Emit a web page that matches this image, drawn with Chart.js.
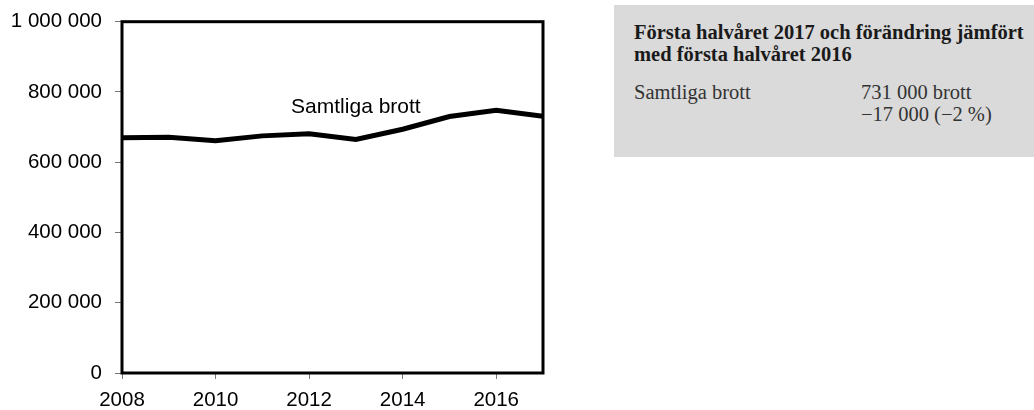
<!DOCTYPE html>
<html>
<head>
<meta charset="utf-8">
<script src="https://cdn.jsdelivr.net/npm/chart.js@4/dist/chart.umd.min.js"></script>
<style>
  html, body { margin: 0; padding: 0; background: #fff; }
  body { width: 1034px; height: 410px; position: relative; overflow: hidden; }
  #chartWrap { position: absolute; left: 0; top: 0; width: 560px; height: 410px; }
  #box { position: absolute; left: 614px; top: 5px; width: 420px; height: 152px; background: #dadada; }
  .serif { font-family: "Liberation Serif", "Times New Roman", serif; font-size: 20.5px; position: absolute; white-space: nowrap; }
  #title { left: 20px; top: 15.8px; line-height: 22.5px; font-weight: bold; color: #1a1a1a; }
  #rowLabel { left: 20px; top: 75.6px; line-height: 22.3px; color: #333; }
  #rowValue { left: 247px; top: 75.6px; line-height: 22.3px; color: #333; }
</style>
</head>
<body>
<div id="chartWrap"><canvas id="c"></canvas></div>
<div id="box">
  <div id="title" class="serif">Första halvåret 2017 och förändring jämfört<br>med första halvåret 2016</div>
  <div id="rowLabel" class="serif">Samtliga brott</div>
  <div id="rowValue" class="serif">731 000 brott<br>−17 000 (−2 %)</div>
</div>
<script>
const years = [2008, 2009, 2010, 2011, 2012, 2013, 2014, 2015, 2016, 2017];
const samtligaBrott = [670000, 671000, 661000, 675000, 681000, 665000, 694000, 730000, 748000, 731000];
const seriesLabel = 'Samtliga brott';
const xTickYears = [2008, 2010, 2012, 2014, 2016];
const yTickValues = [0, 200000, 400000, 600000, 800000, 1000000];

const fmt = v => String(v).replace(/\B(?=(\d{3})+(?!\d))/g, ' ');

const frame = {
  id: 'frame',
  afterDatasetsDraw(chart) {
    const { ctx, chartArea: a } = chart;
    ctx.save();
    ctx.strokeStyle = '#000';
    ctx.lineWidth = 3;
    ctx.strokeRect(a.left, a.top, a.right - a.left, a.bottom - a.top);
    ctx.restore();
  }
};

const seriesText = {
  id: 'seriesText',
  afterDatasetsDraw(chart) {
    const { ctx, scales } = chart;
    ctx.save();
    ctx.font = '21px "Liberation Sans", Arial, sans-serif';
    ctx.fillStyle = '#000';
    ctx.textAlign = 'center';
    ctx.textBaseline = 'middle';
    ctx.fillText(seriesLabel, scales.x.getPixelForValue(2013), scales.y.getPixelForValue(757000));
    ctx.restore();
  }
};

new Chart(document.getElementById('c'), {
  type: 'line',
  data: {
    datasets: [{
      label: seriesLabel,
      data: years.map((y, i) => ({ x: y, y: samtligaBrott[i] })),
      borderColor: '#000',
      borderWidth: 5,
      pointRadius: 0,
      tension: 0,
      fill: false
    }]
  },
  options: {
    responsive: true,
    maintainAspectRatio: false,
    animation: false,
    devicePixelRatio: 1,
    layout: { padding: { top: 21.7, right: 17, bottom: 0, left: 0 } },
    plugins: { legend: { display: false }, tooltip: { enabled: false } },
    scales: {
      x: {
        type: 'linear',
        min: 2008,
        max: 2017,
        afterBuildTicks: axis => { axis.ticks = xTickYears.map(v => ({ value: v })); },
        afterFit: axis => { axis.height = 37; axis.paddingLeft = 0; axis.paddingRight = 0; },
        border: { display: false },
        grid: { drawOnChartArea: false, drawTicks: true, tickLength: 6, tickColor: '#777', tickWidth: 1 },
        ticks: {
          padding: 9,
          color: '#000',
          font: { family: '"Liberation Sans", Arial, sans-serif', size: 20.5 },
          callback: v => String(v),
          maxRotation: 0
        }
      },
      y: {
        min: 0,
        max: 1000000,
        afterBuildTicks: axis => { axis.ticks = yTickValues.map(v => ({ value: v })); },
        afterFit: axis => { axis.width = 122; axis.paddingTop = 0; axis.paddingBottom = 0; },
        border: { display: false },
        grid: { drawOnChartArea: false, drawTicks: true, tickLength: 7, tickColor: '#777', tickWidth: 1 },
        ticks: {
          padding: 13,
          color: '#000',
          font: { family: '"Liberation Sans", Arial, sans-serif', size: 20.5 },
          callback: v => fmt(v)
        }
      }
    }
  },
  plugins: [frame, seriesText]
});
</script>
</body>
</html>
